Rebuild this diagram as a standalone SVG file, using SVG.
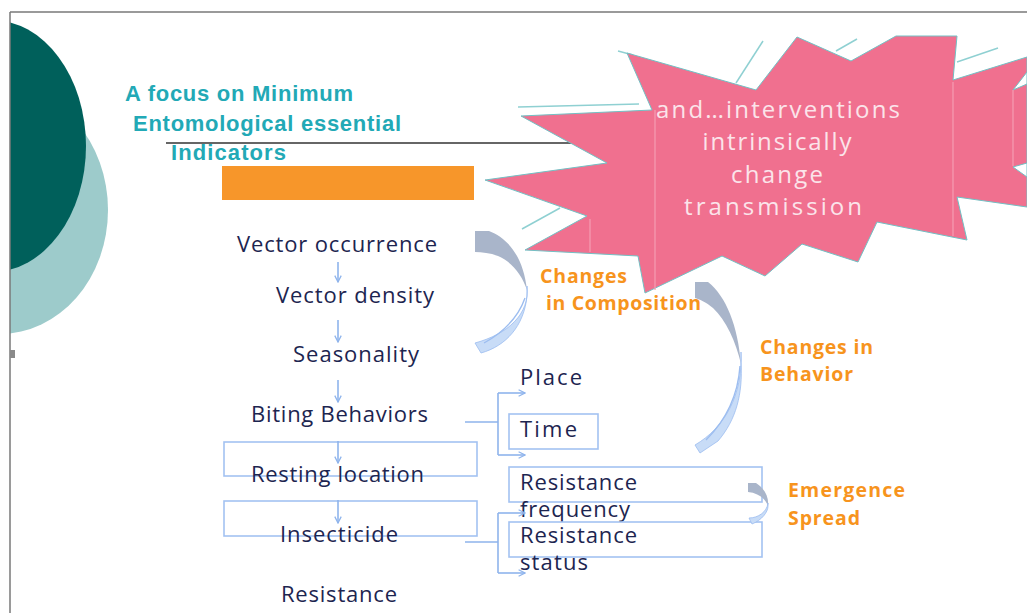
<svg xmlns="http://www.w3.org/2000/svg" width="1027" height="613" viewBox="0 0 1027 613">
  <defs>
    <style>
      .frame { stroke: #7a7a7a; stroke-width: 1.5; fill: none; }
      .title { font-family: "Liberation Sans", Arial, sans-serif; font-weight: bold; font-size: 22px; fill: #22a9b6; }
      .item { font-family: "Open Sans", "Noto Sans", sans-serif; font-size: 22px; fill: #1d2550; }
      .note { font-family: "Open Sans", "Noto Sans", sans-serif; font-weight: bold; font-size: 19.5px; fill: #f7941d; }
      .burst-text { font-family: "Open Sans", "Noto Sans", sans-serif; font-size: 24px; fill: #fbe4ea; text-anchor: middle; }
      .box { fill: none; stroke: #a3c2f2; stroke-width: 1.6; }
      .link { fill: none; stroke: #8fb4ec; stroke-width: 1.6; }
      .spark { stroke: #8fd0d2; stroke-width: 1.5; fill: none; }
      .seam { stroke: #f59db3; stroke-width: 1.2; }
      .ribbon-top { fill: #a9b5ca; }
      .ribbon-low { fill: #c8dcf7; stroke: #9cbdf0; stroke-width: 0.8; }
    </style>
    <marker id="vee" viewBox="0 0 10 10" refX="9" refY="5" markerWidth="8" markerHeight="8" orient="auto" markerUnits="userSpaceOnUse">
      <path d="M1,1 L9,5 L1,9" fill="none" stroke="#8fb4ec" stroke-width="1.6"/>
    </marker>
    <clipPath id="page">
      <rect x="10" y="12" width="1017" height="601"/>
    </clipPath>
  </defs>

  <rect width="1027" height="613" fill="#ffffff"/>

  <!-- decorative discs on the left margin -->
  <g id="discs" clip-path="url(#page)">
    <ellipse cx="0" cy="210" rx="108" ry="124" fill="#9dcbcb"/>
    <ellipse cx="-8" cy="146" rx="94" ry="126" fill="#00605b"/>
  </g>

  <!-- page border -->
  <path class="frame" d="M10,12 H1027 M10,12 V613"/>
  <rect x="10" y="350" width="5" height="8" fill="#8a8a8a"/>

  <!-- heading -->
  <g id="heading">
    <text class="title" x="125" y="101" textLength="228">A focus on Minimum</text>
    <text class="title" x="133" y="131" textLength="268">Entomological essential</text>
    <text class="title" x="171" y="160" textLength="115">Indicators</text>
    <line x1="166" y1="143" x2="580" y2="143" stroke="#333333" stroke-width="1.5"/>
    <rect x="222" y="166" width="252" height="34" fill="#f7962a"/>
  </g>

  <!-- starburst callout -->
  <g id="burst">
    <g class="spark">
      <line x1="618" y1="51" x2="633" y2="55"/>
      <line x1="518" y1="107" x2="639" y2="104"/>
      <line x1="736" y1="83" x2="763" y2="41"/>
      <line x1="836" y1="51" x2="857" y2="39"/>
      <line x1="957" y1="62" x2="998" y2="48"/>
      <line x1="522" y1="229" x2="560" y2="208"/>
    </g>
    <polygon fill="#f0708f" stroke="#72c0c4" stroke-width="1"
      points="485,180 607,163 521,116 652,110 627,53 756,90 797,37 851,61 896,36 957,36 953,80 1027,57 1027,207 957,197 967,240 877,222 858,262 802,244 765,276 722,256 645,293 638,256 525,250 587,216"/>
    <!-- small notches on the cut-off right edge -->
    <polygon fill="#ffffff" stroke="#72c0c4" stroke-width="1" points="1027,72 1013,90 1027,84"/>
    <polygon fill="#ffffff" stroke="#72c0c4" stroke-width="1" points="1027,163 1013,167 1027,177"/>
    <g class="seam">
      <line x1="590" y1="219" x2="590" y2="252"/>
      <line x1="655" y1="110" x2="655" y2="290"/>
      <line x1="953" y1="82" x2="953" y2="236"/>
      <line x1="1013" y1="90" x2="1013" y2="166"/>
    </g>
    <text class="burst-text" x="778" y="118" textLength="244">and…interventions</text>
    <text class="burst-text" x="777" y="150" textLength="149">intrinsically</text>
    <text class="burst-text" x="777" y="183" textLength="92">change</text>
    <text class="burst-text" x="773" y="215" textLength="178">transmission</text>
  </g>

  <!-- indicator list -->
  <g id="occurrence"><text class="item" x="237" y="252" textLength="200">Vector occurrence</text></g>
  <g id="density"><text class="item" x="276" y="303" textLength="158">Vector density</text></g>
  <g id="seasonality"><text class="item" x="293" y="362" textLength="126">Seasonality</text></g>
  <g id="biting"><text class="item" x="251" y="422" textLength="177">Biting Behaviors</text></g>
  <g id="resting">
    <rect class="box" x="224" y="442" width="253" height="34"/>
    <text class="item" x="251" y="482" textLength="173">Resting location</text>
  </g>
  <g id="insecticide">
    <rect class="box" x="224" y="501" width="253" height="35"/>
    <text class="item" x="280" y="542" textLength="118">Insecticide</text>
  </g>
  <g id="resistance"><text class="item" x="281" y="602" textLength="116">Resistance</text></g>

  <!-- branch targets -->
  <g id="place"><text class="item" x="520" y="385" textLength="62">Place</text></g>
  <g id="time">
    <rect class="box" x="509" y="414" width="89" height="35"/>
    <text class="item" x="520" y="437" textLength="57">Time</text>
  </g>
  <g id="res-frequency">
    <rect class="box" x="509" y="467" width="253" height="35"/>
    <text class="item" x="520" y="490" textLength="117">Resistance</text>
    <text class="item" x="520" y="517" textLength="110">frequency</text>
  </g>
  <g id="res-status">
    <rect class="box" x="509" y="522" width="253" height="35"/>
    <text class="item" x="520" y="543" textLength="117">Resistance</text>
    <text class="item" x="520" y="570" textLength="68">status</text>
  </g>

  <!-- orange annotations -->
  <g id="composition">
    <text class="note" x="540" y="283" textLength="87">Changes</text>
    <text class="note" x="546" y="310" textLength="155">in Composition</text>
  </g>
  <g id="behavior">
    <text class="note" x="760" y="354" textLength="113">Changes in</text>
    <text class="note" x="760" y="381" textLength="93">Behavior</text>
  </g>
  <g id="emergence">
    <text class="note" x="788" y="497" textLength="117">Emergence</text>
    <text class="note" x="788" y="525" textLength="72">Spread</text>
  </g>

  <!-- connectors -->
  <g id="connectors">
    <g class="link">
      <line x1="338" y1="262" x2="338" y2="282" marker-end="url(#vee)"/>
      <line x1="338" y1="320" x2="338" y2="342" marker-end="url(#vee)"/>
      <line x1="338" y1="380" x2="338" y2="402" marker-end="url(#vee)"/>
      <line x1="338" y1="441" x2="338" y2="463" marker-end="url(#vee)"/>
      <line x1="338" y1="500" x2="338" y2="523" marker-end="url(#vee)"/>

      <path d="M465,422 H498 M498,393 V455"/>
      <line x1="498" y1="393" x2="525" y2="393" marker-end="url(#vee)"/>
      <line x1="498" y1="455" x2="525" y2="455" marker-end="url(#vee)"/>

      <path d="M465,542 H498 M498,513 V573"/>
      <line x1="498" y1="513" x2="525" y2="513" marker-end="url(#vee)"/>
      <line x1="498" y1="573" x2="525" y2="573" marker-end="url(#vee)"/>
    </g>

    <!-- curved ribbon arrows -->
    <g id="curve-composition">
      <path class="ribbon-top" d="M475,231 L489,231 C507,238 523,255 527,290 C522,275 512,262 498,256 C490,253 482,252 475,252 Z"/>
      <path class="ribbon-low" d="M527,286 C530,314 508,334 475,343 L481,353 C506,346 524,326 527,296 Z"/>
      <path d="M525,298 C518,318 502,333 484,343" fill="none" stroke="#9cbdf0" stroke-width="1.4"/>
    </g>
    <g id="curve-behavior">
      <path class="ribbon-top" d="M695,282 L708,282 C726,296 738,326 741,364 C736,342 726,320 713,308 C706,302 699,299 695,298 Z"/>
      <path class="ribbon-low" d="M741,352 C743,396 724,428 695,445 L700,453 L718,441 C736,420 743,394 741,362 Z"/>
      <path d="M740,366 C738,396 726,420 706,440" fill="none" stroke="#9cbdf0" stroke-width="1.4"/>
    </g>
    <g id="curve-emergence">
      <path class="ribbon-top" d="M748,483 L756,483 C765,489 769,497 768,506 C765,498 758,493 748,492 Z"/>
      <path class="ribbon-low" d="M768,503 C767,512 758,518 749,518 L752,524 C762,520 768,512 768,506 Z"/>
    </g>
  </g>
</svg>
